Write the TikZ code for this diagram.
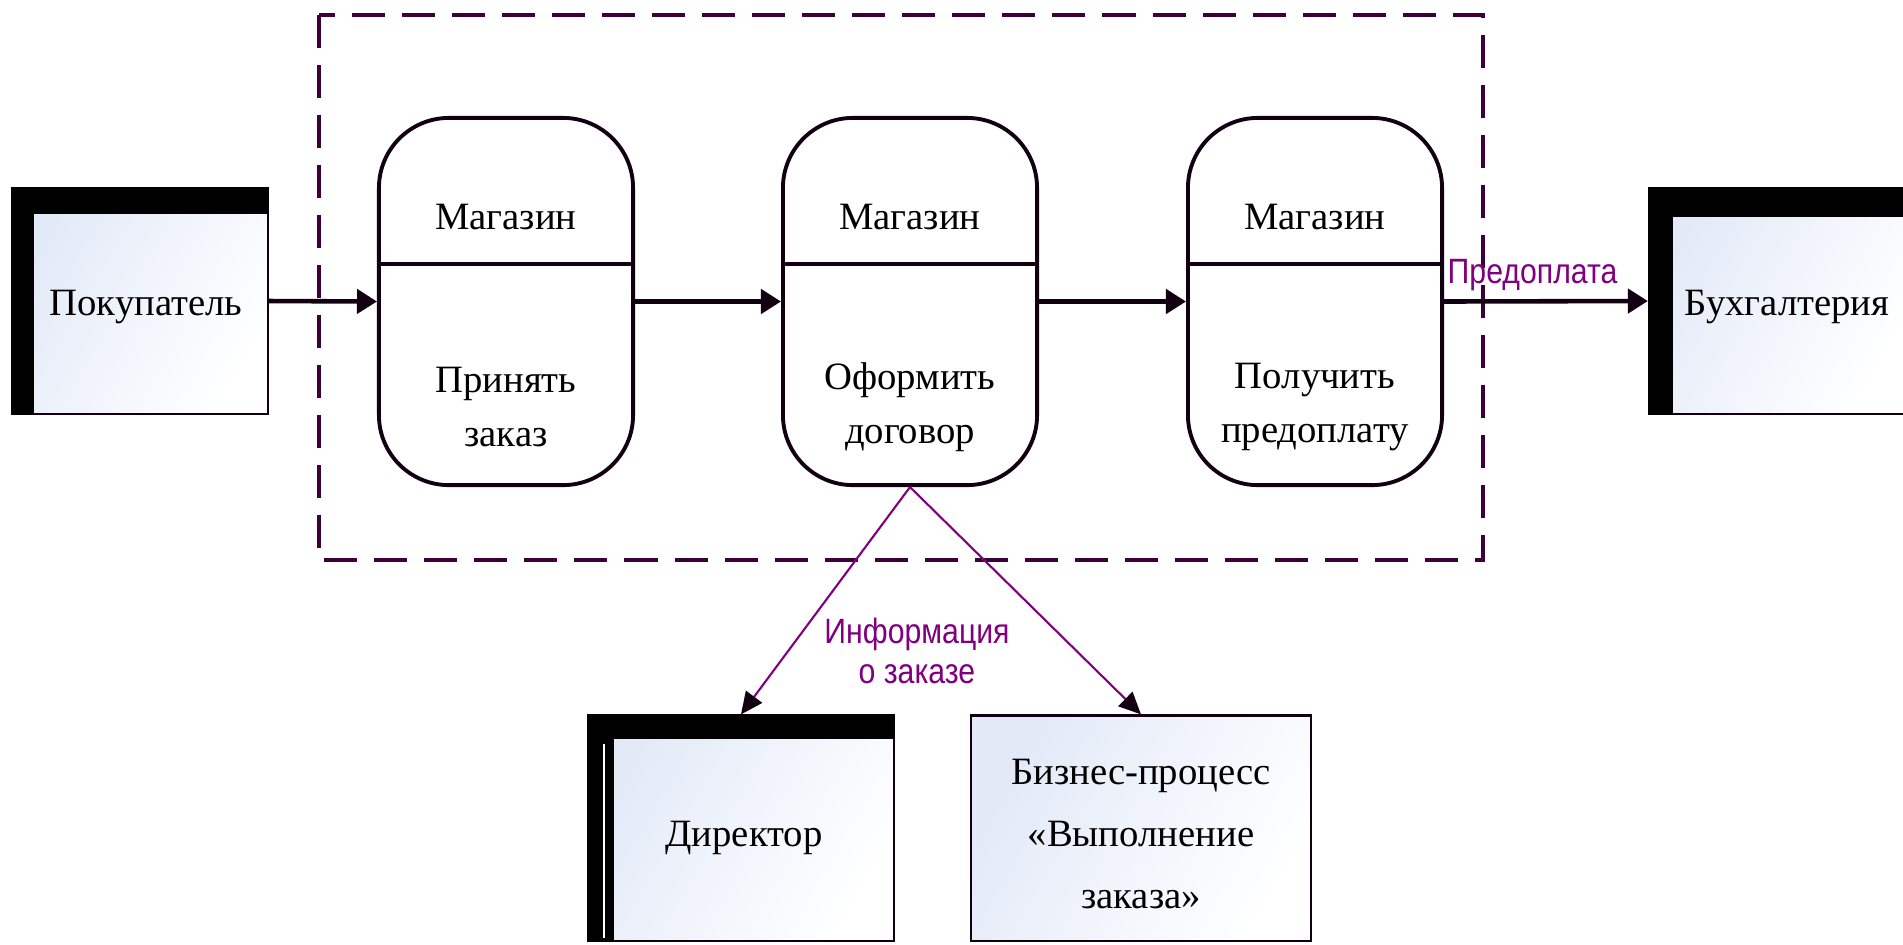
\documentclass[tikz,border=0pt]{standalone}
\usepackage{fontspec}
\setmainfont{Liberation Serif}
\newfontfamily\labelfont[FakeStretch=0.86]{Liberation Sans}
\usetikzlibrary{arrows.meta}

\definecolor{ink}{RGB}{18,0,18}
\definecolor{frame}{RGB}{60,0,60}
\definecolor{note}{RGB}{128,0,128}
\definecolor{entfill}{RGB}{226,233,247}

\begin{document}
\begin{tikzpicture}[x=0.01cm, y=-0.01cm,
		proc/.style = {draw=ink, line width=1.1pt, rounded corners=0.7cm, fill=white, minimum width=2.54cm, minimum height=3.67cm},
		entity/.style = {draw=ink, line width=0.6pt, shading=axis, left color=entfill, right color=white, shading angle=60, minimum height=2.25cm},
		txt/.style = {font=\fontsize{11}{15.5}\selectfont, align=center},
		flow/.style = {draw=ink, line width=1.3pt, -{Triangle[length=0.2cm, width=0.24cm]}},
		info/.style = {draw=note, line width=0.6pt, -{Triangle[length=0.22cm, width=0.2cm, color=ink]}},
		notelabel/.style = {text=note, font=\labelfont\fontsize{10}{11.4}\selectfont, align=center, inner sep=0pt}]

		\useasboundingbox (0,0) rectangle (1903,944);

		% the shop's area
		\draw[frame, line width=1.4pt, dash pattern=on 0.33cm off 0.17cm] (319,15) rectangle (1483,560);

		\node[entity, minimum width=2.56cm] (buyer) at (140,301) {};
		\node[entity, minimum width=2.56cm] (acc) at (1777,301) {};
		\node[entity, minimum width=3.05cm] (dir) at (741,828) {};
		\node[entity, minimum width=3.40cm] (bp) at (1141,828) {};

		% black bands of the outer entities
		\fill[black] (buyer.north west) rectangle ([yshift=-0.27cm]buyer.north east);
		\fill[black] (buyer.north west) rectangle ([xshift=0.23cm]buyer.south west);
		\fill[black] (acc.north west) rectangle ([yshift=-0.3cm]acc.north east);
		\fill[black] (acc.north west) rectangle ([xshift=0.25cm]acc.south west);
		\fill[black] (dir.north west) rectangle ([yshift=-0.25cm]dir.north east);
		\fill[black] (dir.north west) rectangle ([xshift=0.27cm]dir.south west);
		\draw[white, line width=0.6pt] ([xshift=0.17cm, yshift=-0.3cm]dir.north west) -- ([xshift=0.17cm, yshift=0.04cm]dir.south west);

		\node[txt] (buyert) at (146,307) {Покупатель};
		\node[txt] (acct) at (1787,307) {Бухгалтерия};
		\node[txt] (dirt) at (744,838) {Директор};
		\node[txt, font=\fontsize{11}{17.5}\selectfont] (bpt) at (1141,834) {Бизнес-процесс\\«Выполнение\\заказа»};

		\node[proc] (take) at (506,301.5) {};
		\node[proc] (contract) at (910,301.5) {};
		\node[proc] (prepay) at (1315,301.5) {};

		\draw[ink, line width=1.2pt] (take.west |- 0,264) -- (take.east |- 0,264);
		\draw[ink, line width=1.2pt] (contract.west |- 0,264) -- (contract.east |- 0,264);
		\draw[ink, line width=1.2pt] (prepay.west |- 0,264) -- (prepay.east |- 0,264);

		\node[txt] (shop1) at (506,217) {Магазин};
		\node[txt] (shop2) at (910,217) {Магазин};
		\node[txt] (shop3) at (1315,217) {Магазин};
		\node[txt] (do1) at (506,407) {Принять\\заказ};
		\node[txt] (do2) at (910,407) {Оформить\\договор};
		\node[txt] (do3) at (1315,407) {Получить\\предоплату};

		\draw[flow] (buyer.east) -- (take.west);
		\draw[flow] (take.east) -- (contract.west);
		\draw[flow] (contract.east) -- (prepay.west);
		\draw[flow] (prepay.east) -- (acc.west);
		\node[notelabel, anchor=base west] (lpre) at (1447,283) {Предоплата};

		\draw[info] (contract.south) -- (dir.north);
		\draw[info] (contract.south) -- (bp.north);
		\node[notelabel] (linfo) at (917,651) {Информация\\о заказе};
	\end{tikzpicture}
\end{document}
